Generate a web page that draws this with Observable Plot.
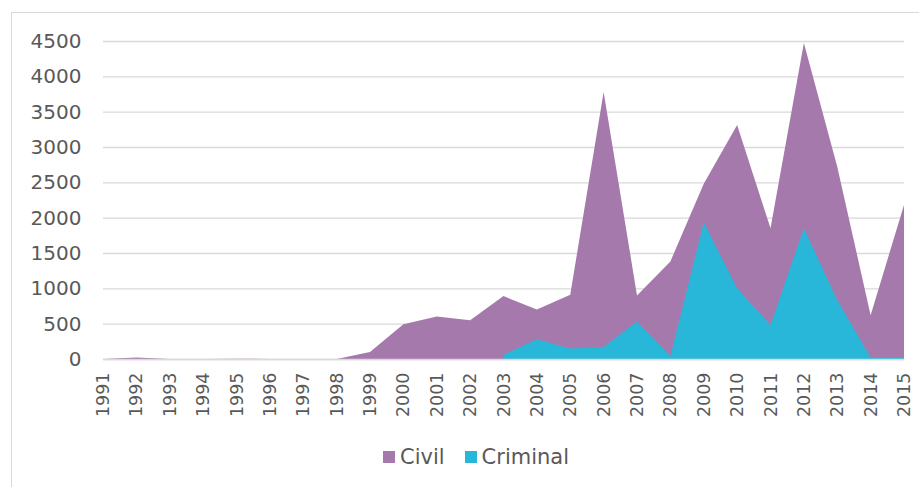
<!DOCTYPE html>
<html>
<head>
<meta charset="utf-8">
<script src="https://cdn.jsdelivr.net/npm/d3@7"></script>
<script src="https://cdn.jsdelivr.net/npm/@observablehq/plot@0.6"></script>
<style>
  html, body { margin: 0; padding: 0; background: #fff; }
  #wrap { position: relative; width: 919px; height: 487px; overflow: hidden; font-family: "DejaVu Sans", Verdana, sans-serif; }
  #frame { position: absolute; left: 11px; top: 12px; width: 920px; height: 500px; border: 1px solid #d9d9d9; box-sizing: border-box; }
  #chart { position: absolute; left: 0; top: 0; }
  #legend { position: absolute; left: 383px; top: 445px; display: flex; color: #595959; font-size: 21px; }
  .item { display: flex; align-items: center; margin-right: 20px; }
  .sw { width: 12px; height: 12px; margin-right: 5px; }
</style>
</head>
<body>
<div id="wrap">
  <div id="frame"></div>
  <div id="chart"></div>
  <div id="legend"></div>
</div>
<script>
const years = [1991,1992,1993,1994,1995,1996,1997,1998,1999,2000,2001,2002,2003,2004,2005,2006,2007,2008,2009,2010,2011,2012,2013,2014,2015];
const civil = [0,20,0,0,5,0,0,0,100,490,600,550,890,700,910,3780,900,1380,2480,3310,1850,4470,2720,620,2180];
const criminal = [null,null,null,null,null,null,null,null,null,null,null,null,60,280,150,170,530,40,1930,1000,480,1850,830,20,20];
const seriesNames = ["Civil", "Criminal"];
const colors = ["#A679AD", "#29B7D9"];
const yTicks = [0,500,1000,1500,2000,2500,3000,3500,4000,4500];

const civilData = years.map((y, i) => ({year: y, value: civil[i]}));
const crimData = years.map((y, i) => ({year: y, value: criminal[i]})).filter(d => d.value != null);

const chart = Plot.plot({
  width: 919,
  height: 430,
  marginLeft: 103,
  marginRight: 15,
  marginTop: 41,
  marginBottom: 71,
  style: {fontFamily: "DejaVu Sans, Verdana, sans-serif", color: "#595959", background: "transparent"},
  x: {type: "linear", domain: [1991, 2015]},
  y: {domain: [0, 4500]},
  marks: [
    Plot.gridY(yTicks, {stroke: "#d9d9d9", strokeOpacity: 1, strokeWidth: 1.4}),
    Plot.areaY(civilData, {x: "year", y: "value", fill: colors[0]}),
    Plot.areaY(crimData, {x: "year", y: "value", fill: colors[1]}),
    Plot.ruleY([0], {stroke: "#d9d9d9", strokeWidth: 1.4}),
    Plot.axisY({ticks: yTicks, tickSize: 0, tickPadding: 22, fontSize: 20, label: null, tickFormat: d => String(d)}),
    Plot.axisX({ticks: years, tickSize: 0, tickPadding: 13, tickRotate: -90, fontSize: 17.5, label: null, tickFormat: d => String(d)})
  ]
});
document.getElementById("chart").appendChild(chart);

const legend = document.getElementById("legend");
seriesNames.forEach((name, i) => {
  const it = document.createElement("div");
  it.className = "item";
  const sw = document.createElement("div");
  sw.className = "sw";
  sw.style.background = colors[i];
  const t = document.createElement("span");
  t.textContent = name;
  it.appendChild(sw); it.appendChild(t);
  legend.appendChild(it);
});
</script>
</body>
</html>
